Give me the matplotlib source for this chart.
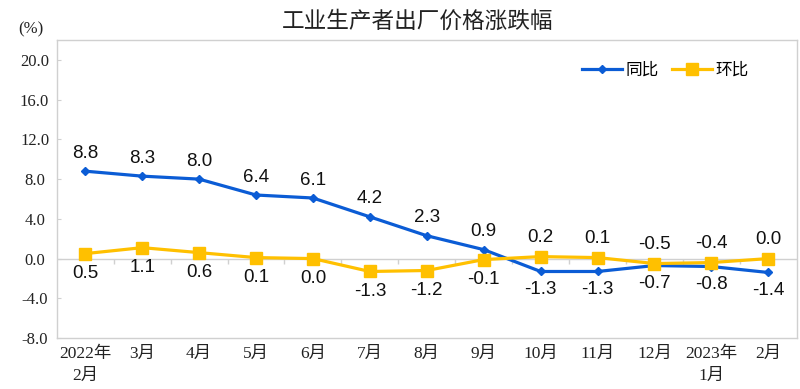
import numpy as np
import matplotlib
matplotlib.use('Agg')
from matplotlib import pyplot as plt

plt.rcParams['font.family'] = ['Liberation Sans', 'Noto Sans CJK SC', 'DejaVu Sans']

months = ['2022年\n2月', '3月', '4月', '5月', '6月', '7月', '8月', '9月',
          '10月', '11月', '12月', '2023年\n1月', '2月']
yoy = [8.8, 8.3, 8.0, 6.4, 6.1, 4.2, 2.3, 0.9, -1.3, -1.3, -0.7, -0.8, -1.4]
mom = [0.5, 1.1, 0.6, 0.1, 0.0, -1.3, -1.2, -0.1, 0.2, 0.1, -0.5, -0.4, 0.0]
yticks = [-8.0, -4.0, 0.0, 4.0, 8.0, 12.0, 16.0, 20.0]

blue = '#0B5CD5'
gold = '#FFC000'
grey = '#D0D0D0'

fig = plt.figure(figsize=(8, 3.89), dpi=100)
ax = fig.add_axes([0.071, 0.131, 0.925, 0.766])

x = np.arange(len(months))
ax.plot(x, yoy, color=blue, lw=2.3, marker='D', ms=4, label='同比', zorder=3)
ax.plot(x, mom, color=gold, lw=2.3, marker='s', ms=8, label='环比', zorder=3)

# zero line with small ticks between months
ax.axhline(0, color=grey, lw=1, zorder=1)
ax.vlines(x[:-1] + 0.5, -0.5, 0, color=grey, lw=1, zorder=1)

# data labels: above/below depending on which line is on top
lab_font = dict(fontsize=13.5, ha='center', va='center', color='#111111',
                family='Liberation Sans')
for i in range(len(x)):
    if yoy[i] > mom[i]:
        ax.text(x[i], yoy[i] + 1.8, f'{yoy[i]:.1f}', **lab_font)
        ax.text(x[i], mom[i] - 2.0, f'{mom[i]:.1f}', **lab_font)
    else:
        ax.text(x[i], mom[i] + 1.9, f'{mom[i]:.1f}', **lab_font)
        ax.text(x[i], yoy[i] - 1.8, f'{yoy[i]:.1f}', **lab_font)

ax.set_xlim(-0.5, len(months) - 0.5)
ax.set_ylim(-8, 22)
ax.set_yticks(yticks)
ax.set_yticklabels([f'{v:.1f}' for v in yticks])
ax.set_xticks(x)
ax.set_xticklabels(months)

tick_fam = ['Liberation Serif', 'Noto Sans CJK SC']
for t in ax.get_yticklabels():
    t.set_family(tick_fam)
    t.set_fontsize(12)
    t.set_color('#222222')
for t in ax.get_xticklabels():
    t.set_family(tick_fam)
    t.set_fontsize(12.5)
    t.set_color('#222222')
    t.set_linespacing(1.45)
    t.set_va('top')

ax.tick_params(axis='y', direction='in', length=3, color=grey, pad=16)
ax.tick_params(axis='x', length=0, pad=6)
for t in ax.get_yticklabels():
    t.set_ha('center')
for s in ax.spines.values():
    s.set_color(grey)
    s.set_linewidth(1)

fig.text(0.038, 0.925, '(%)', fontsize=12, ha='center', va='center',
         family=tick_fam, color='#222222')
fig.text(0.5225, 0.945, '工业生产者出厂价格涨跌幅', fontsize=16.3, ha='center',
         va='center', family=['Noto Sans CJK SC'], color='#222222')

leg = ax.legend(loc='center right', bbox_to_anchor=(0.955, 0.898), ncol=2, frameon=False,
                handlelength=2.4, handletextpad=0.2, columnspacing=0.8,
                prop={'family': 'Noto Sans CJK SC', 'size': 12})

fig.savefig('out.png', dpi=100)
